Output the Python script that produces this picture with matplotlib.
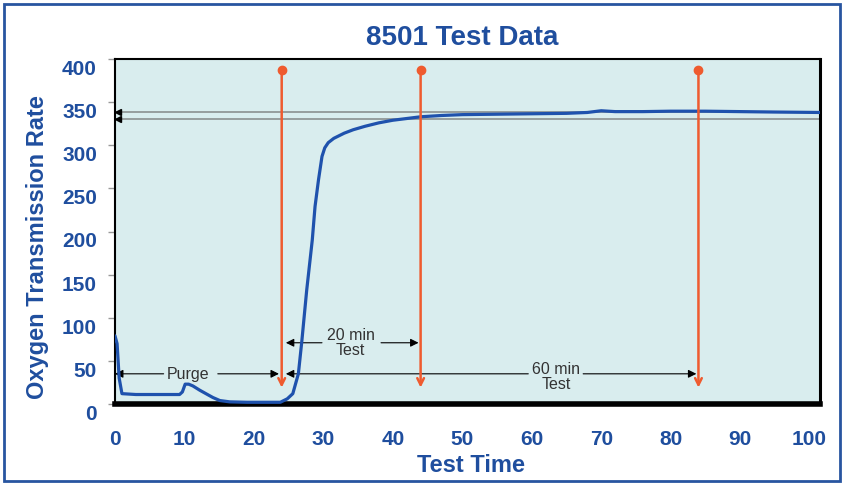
import numpy as np
import matplotlib.pyplot as plt
from matplotlib.patches import Rectangle

# data
time_min = [0, 0.3, 0.6, 1.0, 3, 6, 9.3, 9.7, 10.1, 10.6, 11.2, 12.2, 13.2, 14.1, 15.1, 16.5, 19, 21, 23.8,
            24.8, 25.6, 26.4, 26.9, 27.6, 28.4, 28.8, 29.3, 29.8, 30.2, 30.7, 31.5, 33, 34.3, 36,
            38, 40, 42, 44, 47, 50, 55, 60, 65, 68, 70, 72, 76, 80, 85, 90, 95, 101.5]
rate = [79, 70, 30, 12, 11, 11, 11, 14, 23, 23, 21, 16, 11.5, 7.5, 4, 2.5, 2, 2, 2,
        6, 12, 35, 73, 132, 190, 229, 260, 287, 297, 303, 308, 314, 318, 322,
        326, 329, 331, 333, 334.5, 335.5, 336, 336.5, 337, 338, 340, 339, 339, 339.5, 339.5, 339, 338.5, 338]

marker_times = [24, 44, 84]
ref_levels = [339, 331]
yticks = [0, 50, 100, 150, 200, 250, 300, 350, 400]
xticks = [0, 10, 20, 30, 40, 50, 60, 70, 80, 90, 100]

blue = '#1f4e9e'
orange = '#ef5b2f'
bg = '#d9edee'

plt.rcParams['font.family'] = ['Liberation Sans', 'DejaVu Sans']

fig = plt.figure(figsize=(8.44, 4.85), dpi=100)
ax = fig.add_axes([115/844, 1-405/485, 705/844, 345/485])
ax.set_facecolor(bg)

ax.set_xlim(0, 101.5)
ax.set_ylim(0, 400)

# reference lines
for v in ref_levels:
    ax.axhline(v, color='#8a9090', lw=1.2, zorder=1)
    ax.plot([0.4], [v], marker='<', color='black', ms=5, clip_on=False, zorder=5)

# curve
ax.plot(time_min, rate, color='#1f52ad', lw=2.3, zorder=3,
        solid_capstyle='round', solid_joinstyle='round')

# orange markers
for t in marker_times:
    ax.annotate('', xy=(t, 19), xytext=(t, 387),
                arrowprops=dict(arrowstyle='->', color=orange, lw=1.8,
                                shrinkA=0, shrinkB=0, mutation_scale=12), zorder=4)
    ax.plot([t], [387], 'o', color=orange, ms=6, zorder=4)


def dim_arrow(x0, x1, y, gap0, gap1):
    ap = dict(arrowstyle='-|>', color='black', lw=0.8, shrinkA=0, shrinkB=0, mutation_scale=12)
    ax.annotate('', xy=(x0, y), xytext=(gap0, y), arrowprops=ap, zorder=2)
    ax.annotate('', xy=(x1, y), xytext=(gap1, y), arrowprops=ap, zorder=2)


# Purge
dim_arrow(0, 23.6, 35, 7, 14.8)
ax.text(10.5, 35, 'Purge', ha='center', va='center', fontsize=11.5, color='#333333')
# 20 min test
dim_arrow(24.6, 43.7, 71, 29.8, 38.3)
ax.text(33.9, 72, '20 min\nTest', ha='center', va='center', fontsize=11.5,
        color='#333333', linespacing=1.0)
# 60 min test
dim_arrow(24.6, 83.7, 35, 59.5, 67.4)
ax.text(63.5, 32, '60 min\nTest', ha='center', va='center', fontsize=11.5,
        color='#333333', linespacing=1.0)

# spines
for s in ['left', 'top']:
    ax.spines[s].set_linewidth(1.5)
ax.spines['right'].set_linewidth(2.2)
ax.spines['bottom'].set_linewidth(4)

ax.set_yticks(yticks)
ax.set_xticks(xticks)
ax.tick_params(axis='y', length=5, width=1, color='#999999', pad=8,
               labelsize=15, labelcolor=blue)
ax.tick_params(axis='x', length=0, pad=18, labelsize=15, labelcolor=blue)
for lbl in ax.get_xticklabels() + ax.get_yticklabels():
    lbl.set_fontweight('bold')
for lbl in ax.get_yticklabels():
    lbl.set_va('top')

fig.text(462/844, 1-38/485, '8501 Test Data', ha='center', va='center',
         fontsize=20, fontweight='bold', color=blue)
fig.text(38/844, 1-247/485, 'Oxygen Transmission Rate', rotation=90, ha='center', va='center',
         fontsize=17, fontweight='bold', color=blue)
fig.text(471/844, 1-466/485, 'Test Time', ha='center', va='center',
         fontsize=17, fontweight='bold', color=blue)

# outer border
fig.patches.append(Rectangle((4/844, 3/485), 836/844, 477/485, transform=fig.transFigure,
                             fill=False, edgecolor='#2855a0', lw=2))

fig.savefig('out.png', dpi=100)
